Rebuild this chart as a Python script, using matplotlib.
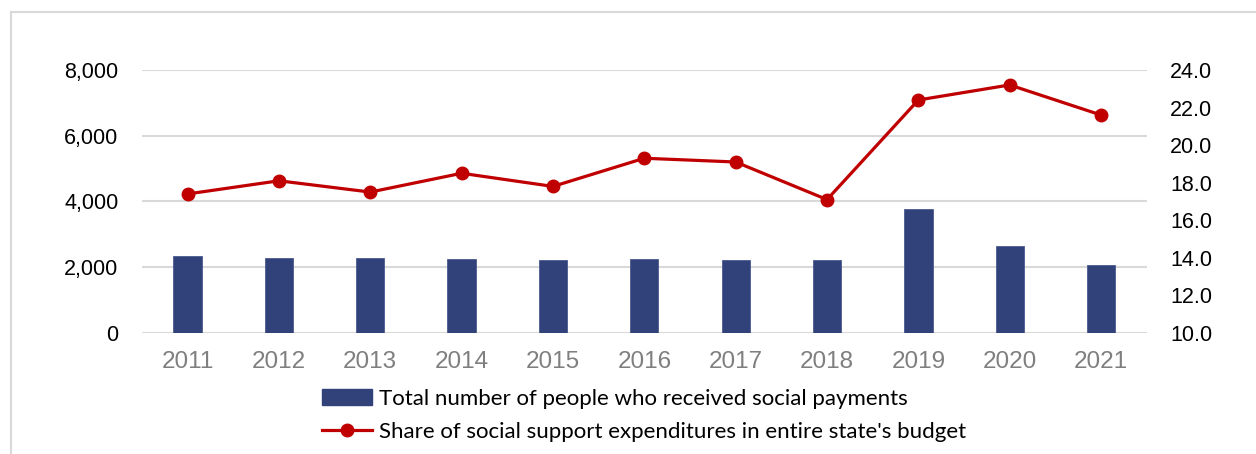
import matplotlib
matplotlib.use("Agg")
import matplotlib.pyplot as plt
from matplotlib.patches import Rectangle
from matplotlib.lines import Line2D
from matplotlib.ticker import FuncFormatter

years = ['2011', '2012', '2013', '2014', '2015', '2016', '2017', '2018', '2019', '2020', '2021']
people = [2350, 2290, 2270, 2250, 2210, 2250, 2230, 2210, 3770, 2650, 2060]
share = [17.4, 18.1, 17.5, 18.5, 17.8, 19.3, 19.1, 17.1, 22.4, 23.2, 21.6]

bar_label = 'Total number of people who received social payments'
line_label = "Share of social support expenditures in entire state's budget"

bar_color = '#31427A'
line_color = '#C00000'
grid_color = '#D9D9D9'

plt.rcParams['font.family'] = ['Liberation Sans', 'DejaVu Sans']

fig = plt.figure(figsize=(12.56, 4.54), dpi=100)
ax = fig.add_axes([0.113, 0.2665, 0.80, 0.5795])

# outer chart frame (runs off the right and bottom edges)
fig.patches.append(Rectangle((11 / 1256, -0.2), 1.2, 1.1736,
                             transform=fig.transFigure, fill=False,
                             edgecolor=grid_color, linewidth=1.5, clip_on=False))

x = range(len(years))
ax.bar(x, people, width=0.31, color=bar_color, edgecolor='#4A5A8E', linewidth=0.6, zorder=2)
ax.set_xlim(-0.5, len(years) - 0.5)
ax.set_ylim(0, 8000)
ax.set_yticks([0, 2000, 4000, 6000, 8000])
ax.yaxis.set_major_formatter(FuncFormatter(lambda v, p: f'{int(v):,}'))
ax.set_xticks(list(x))
ax.set_xticklabels(years, fontsize=17.5, color='#7F7F7F')
ax.tick_params(axis='x', length=0, pad=13)
ax.tick_params(axis='y', length=0, pad=17, labelsize=15.5)
ax.grid(axis='y', color=grid_color, linewidth=1.5)
ax.set_axisbelow(True)
for s in ax.spines.values():
    s.set_visible(False)

ax2 = ax.twinx()
ax2.plot(list(x), share, color=line_color, linewidth=2.3, marker='o', markersize=9, zorder=3)
ax2.set_ylim(10, 24)
ax2.set_yticks([10, 12, 14, 16, 18, 20, 22, 24])
ax2.yaxis.set_major_formatter(FuncFormatter(lambda v, p: f'{v:.1f}'))
ax2.tick_params(axis='y', length=0, pad=17, labelsize=15.5)
for s in ax2.spines.values():
    s.set_visible(False)

handles = [Rectangle((0, 0), 1, 1, color=bar_color),
           Line2D([], [], color=line_color, linewidth=2.3, marker='o', markersize=9)]
leg = fig.legend(handles, [bar_label, line_label], loc='upper center',
                 bbox_to_anchor=(0.513, 1 - 380 / 454), frameon=False, ncol=1,
                 prop={'family': ['Lato', 'DejaVu Sans'], 'size': 16},
                 handlelength=2.25, handleheight=0.75, handletextpad=0.3,
                 labelspacing=0.58, borderaxespad=0)

fig.savefig('out.png', dpi=100)
